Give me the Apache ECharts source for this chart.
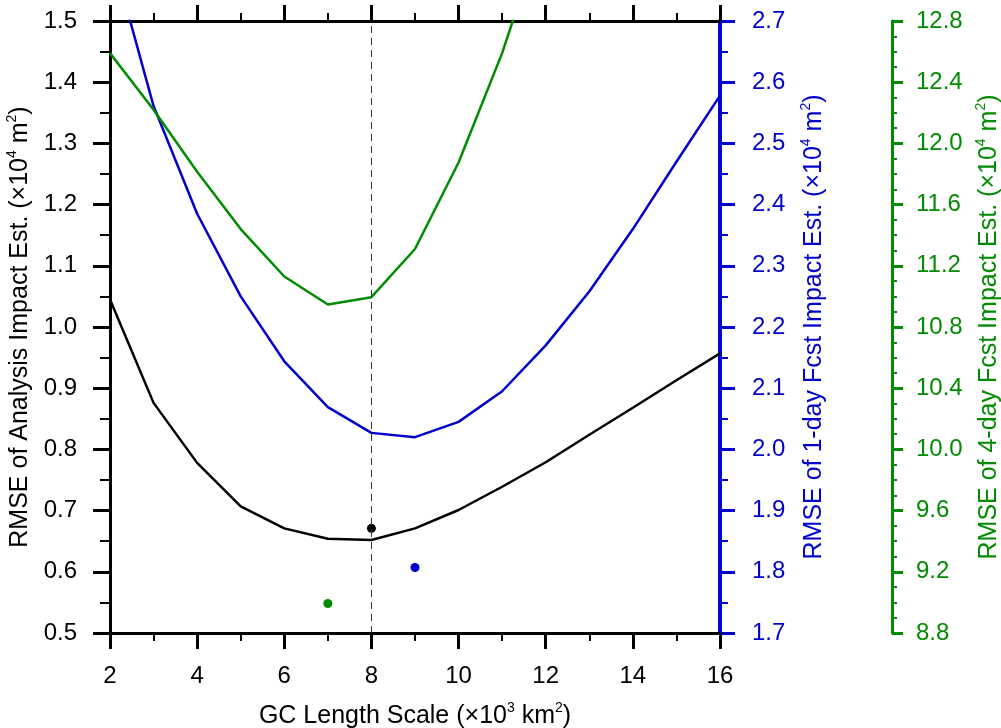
<!DOCTYPE html>
<html>
<head>
<meta charset="utf-8">
<script src="https://cdn.jsdelivr.net/npm/echarts@6/dist/echarts.min.js"></script>
<style>
html,body{margin:0;padding:0;background:#fff;}
#chart{width:1001px;height:728px;}
</style>
</head>
<body>
<div id="chart"></div>
<script>
// ---- data ----
const gcLength = [2, 3, 4, 5, 6, 7, 8, 9, 10, 11, 12, 13, 14, 15, 16];
const rmseAnalysis = [1.045, 0.876, 0.778, 0.707, 0.671, 0.654, 0.652, 0.671, 0.701, 0.739, 0.779, 0.824, 0.868, 0.913, 0.957];
const rmseFcst1day = [2.82, 2.561, 2.385, 2.25, 2.144, 2.069, 2.027, 2.02, 2.045, 2.095, 2.17, 2.258, 2.36, 2.47, 2.578];
const gcLength4day = [2, 3, 4, 5, 6, 7, 8, 9, 10, 11, 12];
const rmseFcst4day = [12.59, 12.22, 11.815, 11.44, 11.13, 10.947, 10.995, 11.31, 11.875, 12.59, 13.45];
const bestAnalysis = [8, 0.671];
const bestFcst1day = [9, 1.807];
const bestFcst4day = [7, 8.993];
const selectedScale = 8;

const BLACK = '#000000', BLUE = '#0000CD', GREEN = '#008B00';
const FONT = '"Liberation Sans", Arial, Helvetica, sans-serif';
const TICK_FS = 24, TITLE_FS = 25, SUP_FS = 14;

function pair(xs, ys) { return xs.map((x, i) => [x, ys[i]]); }
function richStyle(color) {
  return {
    a: { fontSize: TITLE_FS, fontFamily: FONT, color: color, lineHeight: 30 },
    s: { fontSize: SUP_FS, fontFamily: FONT, color: color, verticalAlign: 'top', lineHeight: 30 }
  };
}

const chart = echarts.init(document.getElementById('chart'), null, { renderer: 'canvas' });

function xAxisDef(pos, showLabel) {
  return {
    type: 'value', position: pos, min: 2, max: 16, interval: 2,
    axisLine: { show: true, onZero: false, lineStyle: { color: BLACK, width: 3 } },
    axisTick: { show: true, inside: false, length: 16, lineStyle: { color: BLACK, width: 3 } },
    minorTick: { show: true, splitNumber: 2, length: 8, lineStyle: { color: BLACK, width: 2 } },
    splitLine: { show: false },
    axisLabel: { show: showLabel, fontSize: TICK_FS, fontFamily: FONT, color: BLACK, margin: 31 },
  };
}

chart.setOption({
  animation: false,
  backgroundColor: '#ffffff',
  grid: { left: 110, right: 281, top: 21, bottom: 95, containLabel: false, outerBoundsMode: 'none' },
  xAxis: [
    Object.assign(xAxisDef('bottom', true), {
      name: '{a|GC Length Scale (×10}{s|3}{a| km}{s|2}{a|)}',
      nameLocation: 'middle', nameGap: 68,
      nameTextStyle: { rich: richStyle(BLACK) }
    }),
    xAxisDef('top', false)
  ],
  yAxis: [
    {
      type: 'value', position: 'left', min: 0.5, max: 1.5, interval: 0.1,
      axisLine: { show: true, onZero: false, lineStyle: { color: BLACK, width: 3 } },
      axisTick: { show: true, inside: false, length: 17, lineStyle: { color: BLACK, width: 3 } },
      minorTick: { show: true, splitNumber: 2, length: 10, lineStyle: { color: BLACK, width: 2 } },
      splitLine: { show: false },
      axisLabel: { fontSize: TICK_FS, fontFamily: FONT, color: BLACK, margin: 33, formatter: v => v.toFixed(1) },
      name: '{a|RMSE of Analysis Impact Est. (×10}{s|4}{a| m}{s|2}{a|)}',
      nameLocation: 'middle', nameGap: 71, nameRotate: 90,
      nameTextStyle: { rich: richStyle(BLACK) }
    },
    {
      type: 'value', position: 'right', min: 1.7, max: 2.7, interval: 0.1,
      axisLine: { show: true, onZero: false, lineStyle: { color: BLUE, width: 4 } },
      axisTick: { show: true, inside: false, length: 15, lineStyle: { color: BLUE, width: 3 } },
      minorTick: { show: true, splitNumber: 2, length: 8, lineStyle: { color: BLUE, width: 2 } },
      splitLine: { show: false },
      axisLabel: { fontSize: TICK_FS, fontFamily: FONT, color: BLUE, margin: 32, formatter: v => v.toFixed(1) },
      name: '{a|RMSE of 1-day Fcst Impact Est. (×10}{s|4}{a| m}{s|2}{a|)}',
      nameLocation: 'middle', nameGap: 79, nameRotate: 90,
      nameTextStyle: { rich: richStyle(BLUE) }
    },
    {
      type: 'value', position: 'right', offset: 172, min: 8.8, max: 12.8, interval: 0.4,
      axisLine: { show: true, onZero: false, lineStyle: { color: GREEN, width: 3 } },
      axisTick: { show: true, inside: false, length: 11, lineStyle: { color: GREEN, width: 3 } },
      minorTick: { show: true, splitNumber: 4, length: 5, lineStyle: { color: GREEN, width: 2 } },
      splitLine: { show: false },
      axisLabel: { fontSize: TICK_FS, fontFamily: FONT, color: GREEN, margin: 24, formatter: v => v.toFixed(1) },
      name: '{a|RMSE of 4-day Fcst Impact Est. (×10}{s|4}{a| m}{s|2}{a|)}',
      nameLocation: 'middle', nameGap: 82, nameRotate: 90,
      nameTextStyle: { rich: richStyle(GREEN) }
    }
  ],
  series: [
    {
      type: 'line', xAxisIndex: 0, yAxisIndex: 0, data: pair(gcLength, rmseAnalysis),
      showSymbol: false, symbol: 'none', clip: true,
      lineStyle: { color: BLACK, width: 2.5 },
      markLine: {
        silent: true, symbol: ['none', 'none'], label: { show: false },
        lineStyle: { color: '#333333', width: 1, type: [7, 5] },
        data: [{ xAxis: selectedScale }]
      },
      z: 3
    },
    {
      type: 'line', xAxisIndex: 0, yAxisIndex: 1, data: pair(gcLength, rmseFcst1day),
      showSymbol: false, symbol: 'none', clip: true,
      lineStyle: { color: BLUE, width: 2.5 }, z: 3
    },
    {
      type: 'line', xAxisIndex: 0, yAxisIndex: 2, data: pair(gcLength4day, rmseFcst4day),
      showSymbol: false, symbol: 'none', clip: true,
      lineStyle: { color: GREEN, width: 2.5 }, z: 3
    },
    { type: 'scatter', xAxisIndex: 0, yAxisIndex: 0, data: [bestAnalysis], symbolSize: 9, itemStyle: { color: BLACK, opacity: 1 }, z: 4 },
    { type: 'scatter', xAxisIndex: 0, yAxisIndex: 1, data: [bestFcst1day], symbolSize: 9, itemStyle: { color: BLUE, opacity: 1 }, z: 4 },
    { type: 'scatter', xAxisIndex: 0, yAxisIndex: 2, data: [bestFcst4day], symbolSize: 9, itemStyle: { color: GREEN, opacity: 1 }, z: 4 }
  ]
});
</script>
</body>
</html>
